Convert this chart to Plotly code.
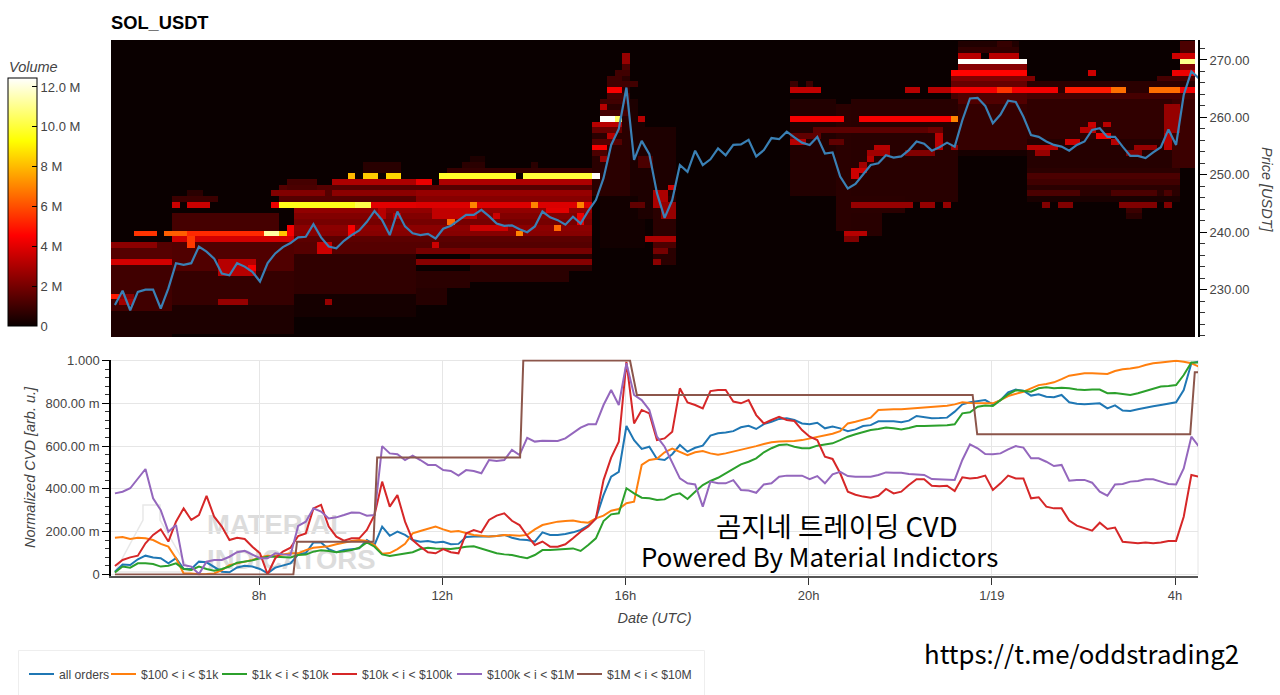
import numpy as np
import pandas as pd
import plotly.graph_objects as go

W, H = 1280, 695
FONT = "Liberation Sans"
KR = "Noto Sans CJK KR"

title = "SOL_USDT"
hour_ticks = [8, 12, 16, 20, 24, 28]
hour_labels = ["8h", "12h", "16h", "20h", "1/19", "4h"]
axis_start_hour, axis_end_hour = 4.769, 28.5
first_sample_hour = 4.855
sample_step = 1 / 6
heat_step = 1 / 6
heat_columns = 142
heat_levels = list(range(222, 275))

price = [227.3,229.8,226.4,229.6,230.0,230.0,226.7,230.2,234.6,234.3,
234.6,237.5,236.6,235.4,232.8,232.5,234.6,234.0,233.1,231.4,
234.6,236.3,237.4,238.1,239.1,239.2,241.4,239.1,237.5,237.2,
238.5,239.5,240.3,241.8,243.7,242.1,239.5,243.6,241.0,239.8,
239.5,239.7,238.9,240.6,241.1,242.0,243.0,243.0,243.9,242.8,
241.5,241.1,241.2,240.5,240.0,241.0,243.6,242.6,242.1,241.3,
242.7,241.5,243.7,245.6,249.4,255.2,258.0,265.2,252.6,255.9,
253.6,246.8,242.5,245.6,251.7,250.5,254.2,251.7,252.7,254.6,
253.4,255.2,255.3,256.1,253.2,254.3,256.4,256.2,257.5,256.5,
255.6,255.2,256.6,253.7,253.9,249.7,247.6,248.4,250.1,251.7,
252.0,253.4,253.0,253.2,254.3,255.8,255.4,254.2,254.8,255.6,
254.9,259.5,263.3,263.4,262.0,259.0,260.5,262.9,262.7,260.1,
256.9,256.6,255.8,255.2,254.9,254.2,255.2,255.8,257.8,258.1,
256.6,256.6,254.9,253.3,253.3,252.9,253.9,254.8,257.9,255.2,
263.9,268.0,266.8]

# (price low, price high, first bucket, end bucket, volume in millions)
heat_background = [
(222,226,0,8,0.35),(227,234,0,8,1.0),(235,238,0,8,1.4),
(223,227,8,24,0.35),(228,233,8,24,0.8),(234,238,8,24,1.3),(240,243,8,22,1.1),
(246,246,8,14,0.9),(247,247,10,12,0.6),
(226,229,24,40,0.2),(230,236,24,40,0.7),(237,244,24,40,1.4),
(231,233,40,47,0.6),(232,236,47,60,0.6),(234,236,60,63,0.6),(237,244,40,63,1.4),(246,248,22,63,1.4),
(228,230,40,44,0.5),(251,251,44,63,0.8),(251,252,33,38,0.55),(252,252,46,49,0.6),(253,253,47,49,0.35),(252,252,55,56,0.6),
(247,258,63,64,0.6),(247,263,64,65,0.6),(247,266,65,66,0.6),(247,268,66,67,0.6),(247,271,67,68,0.6),
(238,246,64,70,0.15),(247,263,68,69,0.35),(243,260,69,70,0.35),(243,258,70,74,0.35),(235,246,71,74,0.6),
(247,263,89,95,0.45),(241,262,95,98,0.6),(240,252,98,101,0.55),(246,263,97,111,0.55),
(244,246,97,104,0.6),(241,243,97,100,0.55),(255,262,111,120,0.8),(264,267,111,120,1.1),(254,254,111,120,0.25),
(257,263,120,140,0.7),(252,256,120,140,0.5),(246,251,120,140,0.6),(264,266,120,142,0.6),(252,264,139,142,0.9),
]
heat_bands_left = [
(240,240,3,6,5.5),(240,240,7,10,6.3),(240,240,10,20,5.3),(240,240,20,22,11.3),(240,240,22,24,8.2),
(239,239,8,24,3.7),(235,235,0,8,3.7),(238,238,0,6,2.4),(229,229,0,1,5.0),(229,229,1,3,2.3),(228,228,1,3,2.8),
(228,228,14,18,2.6),(228,228,28,29,2.6),
(245,245,8,9,3.6),(245,245,10,13,3.6),(245,245,21,22,4.2),(245,245,22,32,9.6),(245,245,32,34,10.2),(245,245,34,40,4.0),
(247,247,21,28,2.2),(247,247,29,40,2.4),(249,249,29,42,3.0),(248,248,23,27,1.2),(249,249,23,27,1.1),
(250,250,31,32,8.0),(250,250,33,35,8.3),(250,250,36,38,8.5),
(250,250,43,53,9.8),(250,250,54,63,10.0),(250,250,63,64,12.4),
(249,249,40,42,4.2),(249,249,43,63,3.0),
(247,247,40,63,2.6),(246,246,40,63,2.3),(245,245,40,63,3.9),(245,245,47,48,7.0),(245,245,55,56,7.0),(245,245,61,62,7.0),
(244,244,24,63,2.5),(243,243,24,63,2.2),(242,242,24,63,2.0),(241,241,24,63,2.4),(240,240,24,63,2.3),(239,239,24,63,1.5),
(237,237,40,63,2.0),(235,235,40,63,2.3),(238,238,42,43,3.6),
(238,239,10,11,5.6),(233,235,14,19,3.2),(234,234,18,19,4.4),(240,241,23,24,4.4),(237,238,27,29,3.6),(240,241,31,32,4.4),
(243,244,35,36,3.2),(243,243,37,38,3.2),(242,242,44,45,6.5),(241,241,47,52,3.6),(241,241,58,59,6.5),(240,240,53,54,7.0),
(243,244,42,48,3.4),(243,243,50,51,3.6),(244,244,57,60,4.0),(242,243,61,62,4.2),
]
heat_bands_spike = [
(270,271,67,68,2.6),(269,269,67,68,1.2),(268,268,66,68,1.0),(267,267,65,67,1.0),(266,266,65,69,1.0),(265,265,65,67,4.4),
(264,264,65,68,1.1),(263,263,64,68,1.0),(262,262,64,65,3.2),(261,261,64,68,1.1),
(260,260,64,66,12.4),(260,260,66,67,10.5),(260,260,69,70,3.2),(259,259,63,67,3.2),(258,258,63,67,1.7),(257,257,65,66,3.2),
(256,256,63,67,1.4),(255,255,63,65,4.4),(253,253,64,65,2.6),(254,254,63,65,1.2),
(248,248,73,74,3.6),(245,247,71,73,3.0),(243,245,72,74,2.6),(245,245,68,70,1.6),(239,239,70,74,3.0),(238,238,71,74,1.2),
(237,237,71,73,2.0),(235,235,71,72,2.4),(252,253,69,71,1.2),
]
heat_bands_right = [
(265,265,89,93,3.4),(266,266,89,90,0.9),(266,266,91,92,0.9),
(260,260,89,96,4.4),(260,260,98,110,4.4),(260,260,110,111,7.0),
(258,258,92,108,1.5),(257,257,89,93,1.6),(256,256,89,91,3.2),(256,256,94,96,1.6),
(240,240,96,99,3.2),(239,239,96,98,2.2),
(251,251,97,99,3.6),(250,250,97,98,3.6),(252,252,98,99,2.8),(253,253,99,100,3.2),(254,254,99,102,2.8),(255,255,100,102,3.2),
(254,254,104,108,2.2),(255,257,108,109,3.2),(258,258,107,109,1.8),(255,255,110,111,2.6),
(245,245,97,105,2.6),(245,245,106,108,2.6),(245,245,109,110,2.6),
(273,273,111,119,0.4),(273,273,116,118,0.8),(272,272,111,119,0.7),(271,271,111,114,3.2),(271,271,115,119,3.2),
(270,270,111,120,12.4),(269,269,111,120,2.3),(268,268,110,120,4.6),(267,267,110,121,2.2),(266,266,110,120,1.7),
(264,264,110,142,1.1),(263,264,111,120,1.3),
(265,265,104,106,3.2),(265,265,107,110,3.2),(265,265,110,124,4.3),(265,265,116,118,5.5),(265,265,125,131,5.0),
(265,265,131,133,6.6),(265,265,136,140,6.6),(265,265,140,142,4.3),
(272,273,140,142,1.2),(271,271,139,142,3.6),(270,270,140,142,11.0),(269,269,140,142,2.2),(268,268,139,142,4.2),(267,267,137,142,1.1),(268,268,128,129,3.6),
(258,258,127,129,3.2),(259,259,128,129,3.6),(259,259,130,131,3.2),(257,257,129,131,4.2),(256,256,125,127,3.6),(256,256,131,132,3.2),
(255,255,120,124,3.2),(254,254,121,123,2.6),(255,255,134,137,2.6),(254,254,133,135,2.2),(255,257,138,139,3.2),(258,262,138,140,2.6),
(250,250,120,140,1.2),(249,249,120,140,1.0),(248,248,120,140,0.6),(247,247,120,127,1.2),(247,247,131,137,1.2),(247,247,138,139,1.2),
(246,246,120,140,0.3),(245,245,122,123,2.2),(245,245,124,126,2.2),(245,245,132,137,2.2),(245,245,138,139,2.2),(244,244,133,135,0.9),(243,243,133,135,0.6),
]

cvd_all = [13,47,44,71,88,79,76,52,76,26,26,60,57,33,13,10,33,41,37,26,5,32,41,52,94,100,150,150,118,104,
114,119,122,161,138,224,181,200,185,161,153,157,150,153,141,143,175,178,177,177,180,185,172,164,161,153,197,185,185,189,
197,208,228,262,371,457,480,694,628,587,597,540,535,562,605,574,592,602,649,660,664,670,688,695,680,703,714,727,730,722,
706,702,709,683,691,683,670,678,694,698,716,717,716,712,719,741,735,730,731,733,761,795,805,811,815,795,815,851,864,859,
836,842,831,828,839,805,798,795,798,800,776,790,766,764,772,780,786,792,798,805,862,987,995]
cvd_100_1k = [172,175,166,172,169,161,143,130,76,5,5,1,2,5,21,44,52,60,68,80,88,88,94,99,99,114,125,130,132,141,
150,157,161,157,138,97,100,119,143,192,203,213,224,211,200,203,195,185,181,177,180,185,183,181,185,211,231,239,247,250,
252,245,242,262,275,298,306,333,340,512,535,541,571,588,574,558,571,577,566,560,566,574,583,592,600,610,618,621,621,624,
628,635,641,649,658,670,706,714,722,733,769,772,772,772,775,776,780,783,786,789,795,805,802,800,800,800,815,834,843,854,
870,885,890,898,913,929,935,940,940,937,937,951,959,963,968,979,987,991,994,999,994,987,971]
cvd_1k_10k = [9,37,32,52,52,49,37,41,52,26,21,37,26,18,26,37,55,60,66,76,83,83,82,80,91,93,107,113,110,104,
108,114,125,150,130,94,86,91,96,104,119,125,122,119,119,124,130,132,122,110,99,94,91,83,76,91,114,114,118,119,
122,110,138,169,250,281,286,403,379,359,356,348,351,371,379,353,387,418,437,452,473,496,515,527,543,571,590,605,608,597,
590,590,602,608,613,628,644,655,664,675,680,687,683,678,685,694,694,695,697,697,702,753,758,784,790,787,815,842,861,858,
854,870,875,870,873,870,864,862,865,864,847,848,842,839,847,858,867,878,881,885,932,991,991]
cvd_10k_100k = [40,68,80,88,146,185,211,154,247,309,255,278,367,270,224,161,172,166,130,99,1,76,107,125,180,192,309,325,224,177,
158,169,169,208,278,434,317,371,247,161,130,104,99,119,104,99,192,208,197,255,275,286,251,231,181,138,154,130,130,141,
169,200,224,262,441,546,621,994,706,769,753,628,636,667,870,804,792,776,857,862,862,808,800,815,745,706,722,737,722,717,
675,644,628,551,540,473,387,373,364,359,368,400,379,387,418,445,445,415,412,415,390,454,449,452,462,395,426,462,449,449,
356,361,317,309,309,252,228,216,205,242,213,219,153,150,146,150,146,150,157,157,270,465,457]
cvd_100k_1m = [379,387,403,449,493,356,301,200,231,44,37,2,60,68,68,83,104,111,94,76,76,99,94,91,227,247,309,294,262,267,
278,290,289,275,278,600,566,562,535,555,535,512,512,488,484,462,488,484,473,535,530,535,582,558,639,621,625,625,624,636,
660,686,702,702,792,862,792,987,839,815,769,644,597,519,449,426,421,317,434,426,426,441,395,392,382,421,426,457,462,462,
462,446,460,426,468,480,460,457,457,457,465,477,476,476,470,468,465,446,445,445,442,535,608,590,563,562,566,585,600,593,
543,543,527,507,512,438,442,442,429,387,368,421,423,434,437,445,445,434,423,421,496,644,597]
cvd_1m_10m_hours = [4.855,8.75,8.83,10.5,10.58,13.7,13.77,16.1,16.25,23.58,23.68,28.33,28.43,28.5]
cvd_1m_10m = [0,0,153,153,547,547,1000,1000,839,839,655,655,945,945]

series_names = ["all orders", "$100 < i < $1k", "$1k < i < $10k", "$10k < i < $100k", "$100k < i < $1M", "$1M < i < $10M"]
series_colors = ["#1f77b4", "#ff7f0e", "#2ca02c", "#d62728", "#9467bd", "#8c564b"]
cvd_ticks = [0, 0.2, 0.4, 0.6, 0.8, 1.0]
cvd_labels = ["0", "200.00 m", "400.00 m", "600.00 m", "800.00 m", "1.000"]
volume_ticks = [0, 2, 4, 6, 8, 10, 12]
volume_labels = ["0", "2 M", "4 M", "6 M", "8 M", "10.0 M", "12.0 M"]


def when(hours):
    return pd.Timestamp("2025-01-18") + pd.to_timedelta(np.asarray(hours), unit="h")


z = np.zeros((len(heat_levels), heat_columns))
for lo, hi, c0, c1, vol in heat_background + heat_bands_left + heat_bands_spike + heat_bands_right:
    z[lo - heat_levels[0]: hi - heat_levels[0] + 1, c0:c1] = vol

heat_x = when(axis_start_hour + np.arange(heat_columns + 1) * heat_step)
heat_y = [p - 0.75 for p in heat_levels] + [heat_levels[-1] + 0.25]
sample_hours = first_sample_hour + np.arange(len(price)) * sample_step

hot = [[0, "rgb(10,0,0)"], [0.365, "rgb(255,0,0)"], [0.746, "rgb(255,255,0)"], [1, "rgb(255,255,255)"]]


def yfrac(px):
    return 1 - px / H


fig = go.Figure()
fig.add_trace(go.Heatmap(x=heat_x, y=heat_y, z=z, zmin=0, zmax=12.45, colorscale=hot, xaxis="x", yaxis="y",
                         colorbar=dict(x=8 / W, xanchor="left", y=yfrac(78), yanchor="top", len=248, lenmode="pixels",
                                       thickness=29, thicknessmode="pixels", xpad=0, ypad=0, outlinecolor="black", outlinewidth=1,
                                       tickmode="array", tickvals=volume_ticks, ticktext=volume_labels, ticks="inside",
                                       ticklen=5, tickcolor="black", tickfont=dict(family=FONT, size=13, color="#444444"))))
fig.add_trace(go.Scatter(x=when(sample_hours), y=price, mode="lines", line=dict(color="#3a80b5", width=2.2), showlegend=False,
                         xaxis="x", yaxis="y", name="price"))
legend_ids = ["legend", "legend2", "legend3", "legend4", "legend5", "legend6"]
legend_text_px = [59, 141, 252, 362, 487, 607]
for name, color, values, lg in zip(series_names[:5], series_colors[:5], [cvd_all, cvd_100_1k, cvd_1k_10k, cvd_10k_100k, cvd_100k_1m], legend_ids):
    fig.add_trace(go.Scatter(x=when(sample_hours), y=np.array(values) / 1000, mode="lines", name=name, legend=lg,
                             line=dict(color=color, width=2), xaxis="x2", yaxis="y2"))
fig.add_trace(go.Scatter(x=when(cvd_1m_10m_hours), y=np.array(cvd_1m_10m) / 1000, mode="lines", name=series_names[5], legend=legend_ids[5],
                         line=dict(color=series_colors[5], width=2), xaxis="x2", yaxis="y2"))

x_domain = [111 / W, 1198 / W]
x_range = [when(axis_start_hour), when(axis_end_hour)]
wm_font = dict(family=FONT, size=27.5, color="#dcdcdc")
fig.update_layout(
    width=W, height=H, autosize=False, margin=dict(l=0, r=0, t=0, b=0, autoexpand=False), paper_bgcolor="white", plot_bgcolor="white",
    font=dict(family=FONT, size=13, color="#444444"),
    title=dict(text="<b>%s</b>" % title, x=111 / W, xanchor="left", y=yfrac(23), yanchor="middle", font=dict(family=FONT, size=18.3, color="black")),
    xaxis=dict(domain=x_domain, range=x_range, anchor="y", visible=False),
    yaxis=dict(domain=[yfrac(337), yfrac(40)], range=[221.74, 273.48], anchor="x", side="right", tick0=0, dtick=10, tickformat=".2f",
               ticks="outside", ticklen=7, tickcolor="black", showline=True, linecolor="black", linewidth=2, showgrid=False, zeroline=False,
               minor=dict(ticks="outside", ticklen=5, tickcolor="#333333", dtick=2, tick0=0, showgrid=False),
               tickfont=dict(family=FONT, size=13, color="#444444")),
    xaxis2=dict(domain=x_domain, range=x_range, anchor="y2", tickmode="array", tickvals=when(hour_ticks), ticktext=hour_labels,
                ticks="outside", ticklen=7, tickcolor="#333333", showline=True, linecolor="#555555", linewidth=2,
                showgrid=True, gridcolor="#e6e6e6", gridwidth=1, zeroline=False,
                tickfont=dict(family=FONT, size=13, color="#444444"),
                title=dict(text="<i>Date (UTC)</i>", font=dict(family=FONT, size=14.5, color="#444444"), standoff=11)),
    yaxis2=dict(domain=[yfrac(575.5), yfrac(359.5)], range=[-0.0047, 1.0047], anchor="x2", tickmode="array", tickvals=cvd_ticks, ticktext=cvd_labels,
                ticks="outside", ticklen=7, tickcolor="black", showline=True, linecolor="black", linewidth=1.5,
                showgrid=True, gridcolor="#e6e6e6", gridwidth=1, zeroline=False,
                minor=dict(ticks="outside", ticklen=4, tickcolor="#333333", dtick=0.04, tick0=0, showgrid=False),
                tickfont=dict(family=FONT, size=13, color="#444444"),
                title=dict(text="<i>Normalized CVD [arb. u.]</i>", font=dict(family=FONT, size=14.5, color="#444444"), standoff=6)),
    shapes=[
        dict(type="rect", xref="paper", yref="paper", x0=18.5 / W, x1=704.5 / W, y0=yfrac(700), y1=yfrac(650.5), line=dict(color="#eeeeee", width=1), layer="below"),
        dict(type="line", xref="paper", yref="paper", x0=1198 / W, x1=1198 / W, y0=yfrac(575), y1=yfrac(360), line=dict(color="#e6e6e6", width=1), layer="below"),
        dict(type="path", xref="paper", yref="paper", layer="below", line=dict(color="#e8e8e8", width=1.5),
             path="M %.4f,%.4f L %.4f,%.4f L %.4f,%.4f L %.4f,%.4f L %.4f,%.4f L %.4f,%.4f Z" % (
                 143 / W, yfrac(505), 160 / W, yfrac(505), 160 / W, yfrac(520), 190 / W, yfrac(572), 115 / W, yfrac(572), 143 / W, yfrac(520))),
        dict(type="rect", xref="paper", yref="paper", x0=204 / W, x1=350 / W, y0=yfrac(537), y1=yfrac(506), line=dict(width=0), layer="below",
             label=dict(text="<b>MATERIAL</b>", textposition="middle left", padding=0, font=wm_font)),
        dict(type="rect", xref="paper", yref="paper", x0=204 / W, x1=380 / W, y0=yfrac(573), y1=yfrac(541), line=dict(width=0), layer="below",
             label=dict(text="<b>INDICATORS</b>", textposition="middle left", padding=0, font=wm_font)),
    ],
    annotations=[
        dict(text="<i>Volume</i>", xref="paper", yref="paper", x=7 / W, y=yfrac(67), xanchor="left", yanchor="middle", showarrow=False,
             font=dict(family=FONT, size=14.5, color="#444444")),
        dict(text="<i>Price [USDT]</i>", xref="paper", yref="paper", x=1267 / W, y=yfrac(190), xanchor="center", yanchor="middle", showarrow=False,
             textangle=90, font=dict(family=FONT, size=14.5, color="#444444")),
        dict(text="곰지네 트레이딩 CVD", xref="paper", yref="paper", x=837 / W, y=yfrac(525), xanchor="center", yanchor="middle", showarrow=False,
             font=dict(family=KR, size=27.5, color="black")),
        dict(text="Powered By Material Indictors", xref="paper", yref="paper", x=819.5 / W, y=yfrac(555), xanchor="center", yanchor="middle", showarrow=False,
             font=dict(family=KR, size=25.8, color="black")),
        dict(text="https://t.me/oddstrading2", xref="paper", yref="paper", x=1081 / W, y=yfrac(652), xanchor="center", yanchor="middle", showarrow=False,
             font=dict(family=KR, size=25.8, color="black")),
    ],
)
for lg, px in zip(legend_ids, legend_text_px):
    fig.layout[lg] = dict(orientation="h", x=(px - 30) / W, xanchor="left", y=yfrac(674), yanchor="middle", font=dict(family=FONT, size=12.2, color="#444444"),
                          bgcolor="rgba(0,0,0,0)", borderwidth=0, indentation=-10)
fig.data[2].showlegend = True

fig.write_html("out.html", config=dict(displayModeBar=False), post_script="document.body.style.margin='0';document.body.style.overflow='hidden';")
